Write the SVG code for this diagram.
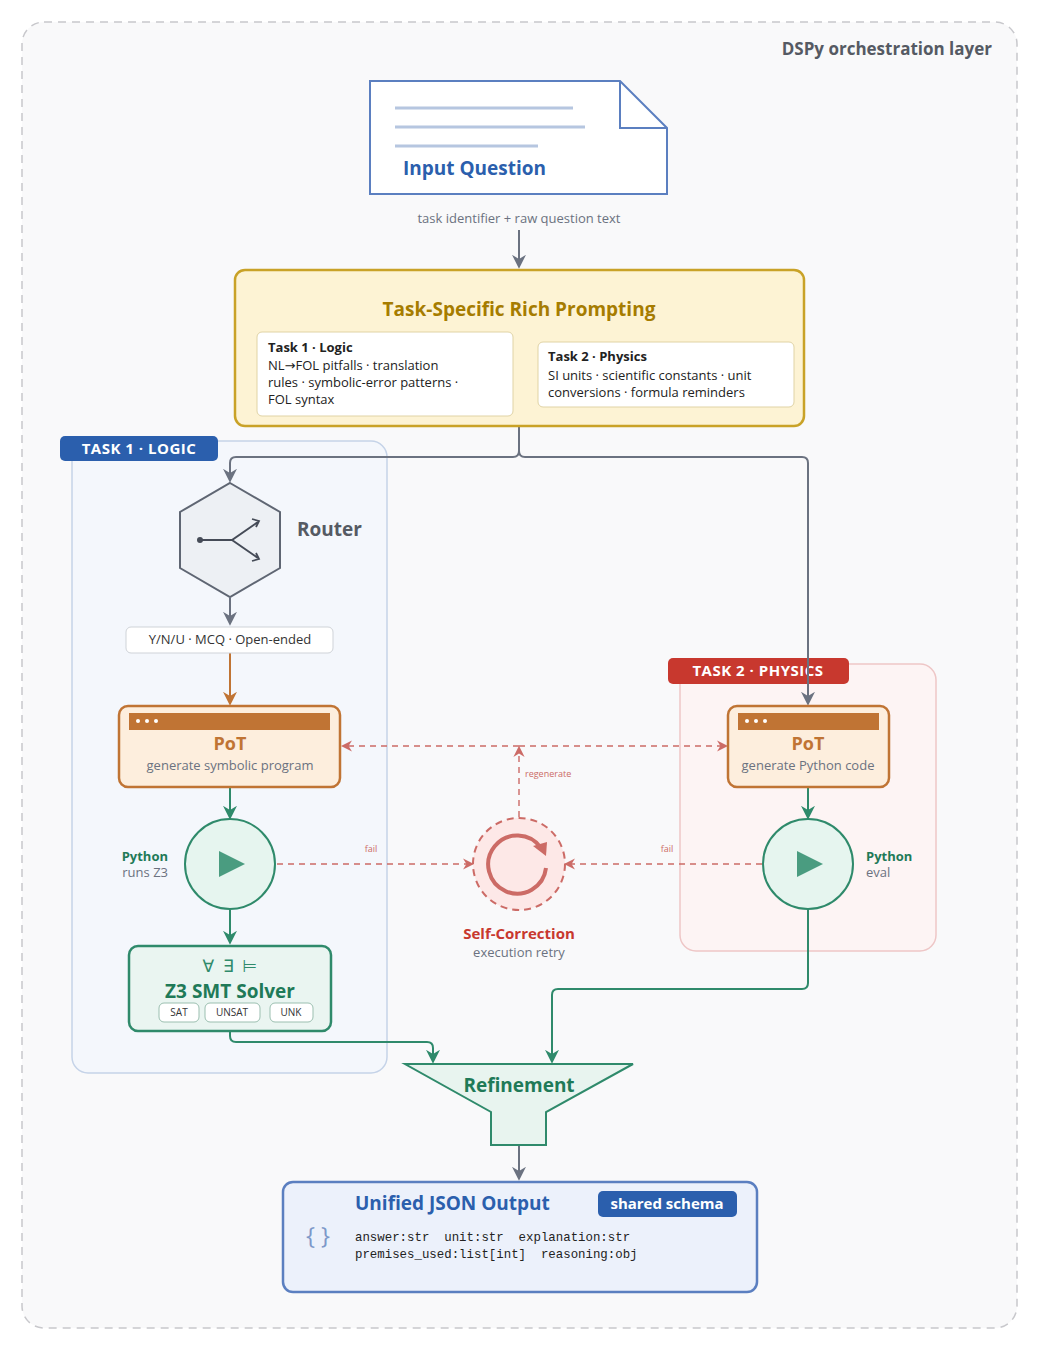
<svg xmlns="http://www.w3.org/2000/svg" width="1039" height="1350" viewBox="0 0 1039 1350">
<style>
text{font-family:"Open Sans","DejaVu Sans",sans-serif}
.g{fill:none;stroke:#2f8a6b;stroke-width:2}
.gr{fill:none;stroke:#6b7280;stroke-width:2}
.r{fill:none;stroke:#cc6b66;stroke-width:1.4;stroke-dasharray:6 5}
.pill{fill:#fff;stroke:#9bbfb0;stroke-width:1}
.mono{font-family:"Liberation Mono","DejaVu Sans Mono",monospace;font-size:12.4px;fill:#222}
</style>
<defs>
<marker id="ag" viewBox="0 0 10 10" refX="8" refY="5" markerWidth="7" markerHeight="7" orient="auto"><path d="M0,0L10,5L0,10L3,5z" fill="#2f8a6b"/></marker>
<marker id="agr" viewBox="0 0 10 10" refX="8" refY="5" markerWidth="7" markerHeight="7" orient="auto"><path d="M0,0L10,5L0,10L3,5z" fill="#6b7280"/></marker>
<marker id="ao" viewBox="0 0 10 10" refX="8" refY="5" markerWidth="7" markerHeight="7" orient="auto"><path d="M0,0L10,5L0,10L3,5z" fill="#c07434"/></marker>
<marker id="ar" viewBox="0 0 10 10" refX="8" refY="5" markerWidth="8" markerHeight="8" orient="auto"><path d="M0,0L10,5L0,10L3,5z" fill="#cc6b66"/></marker>
</defs>
<rect x="0" y="0" width="1039" height="1350" fill="#fff"/>
<rect x="22" y="22" width="995" height="1306" rx="22" fill="#f9f9fa" stroke="#c8c8cc" stroke-width="1.5" stroke-dasharray="8 6"/>
<text x="992" y="55" text-anchor="end" font-size="17" font-weight="bold" fill="#555a63">DSPy orchestration layer</text>

<g id="task1-panel">
<rect x="72" y="441" width="315" height="632" rx="16" fill="#f4f7fc" stroke="#c5d3e8" stroke-width="1.5"/>
<rect x="60" y="436" width="158" height="25" rx="5" fill="#2b5fad"/>
<text x="139" y="454" text-anchor="middle" font-size="15" font-weight="bold" fill="#fff" letter-spacing="0.5">TASK 1 · LOGIC</text>
</g>
<g id="task2-panel">
<rect x="680" y="664" width="256" height="287" rx="16" fill="#fdf4f4" stroke="#eec6c6" stroke-width="1.5"/>
<rect x="668" y="658" width="181" height="26" rx="5" fill="#c8382e"/>
<text x="758" y="676" text-anchor="middle" font-size="15" font-weight="bold" fill="#fff" letter-spacing="0.5">TASK 2 · PHYSICS</text>
</g>

<g id="connectors">
<line x1="519" y1="230" x2="519" y2="266" class="gr" marker-end="url(#agr)"/>
<path d="M519,426V451Q519,457 513,457H236Q230,457 230,463V480" class="gr" marker-end="url(#agr)"/>
<path d="M519,451Q519,457 525,457H802Q808,457 808,463V703" class="gr" marker-end="url(#agr)"/>
<line x1="230" y1="598" x2="230" y2="623" class="gr" marker-end="url(#agr)"/>
<line x1="230" y1="653" x2="230" y2="703" fill="none" stroke="#c07434" stroke-width="2" marker-end="url(#ao)"/>
<line x1="230" y1="788" x2="230" y2="817" class="g" marker-end="url(#ag)"/>
<line x1="230" y1="910" x2="230" y2="942" class="g" marker-end="url(#ag)"/>
<line x1="808" y1="788" x2="808" y2="817" class="g" marker-end="url(#ag)"/>
<path d="M230,1032V1036Q230,1042 236,1042H427Q433,1042 433,1048V1061" class="g" marker-end="url(#ag)"/>
<path d="M808,910V983Q808,989 802,989H558Q552,989 552,995V1061" class="g" marker-end="url(#ag)"/>
<line x1="519" y1="1146" x2="519" y2="1178" class="gr" marker-end="url(#agr)"/>
<line x1="277" y1="864" x2="472" y2="864" class="r" marker-end="url(#ar)"/>
<line x1="762" y1="864" x2="566" y2="864" class="r" marker-end="url(#ar)"/>
<line x1="519" y1="817" x2="519" y2="748" class="r" marker-end="url(#ar)"/>
<line x1="519" y1="746" x2="343" y2="746" class="r" marker-end="url(#ar)"/>
<line x1="519" y1="746" x2="726" y2="746" class="r" marker-end="url(#ar)"/>
<text x="371" y="852" text-anchor="middle" font-size="9" fill="#cc6b66">fail</text>
<text x="667" y="852" text-anchor="middle" font-size="9" fill="#cc6b66">fail</text>
<text x="525" y="777" font-size="9" fill="#cc6b66">regenerate</text>
</g>

<g id="input">
<path d="M370,81H620L667,128V194H370Z" fill="#fff" stroke="#5b7fc0" stroke-width="2"/>
<path d="M620,81V128H667" fill="none" stroke="#5b7fc0" stroke-width="2"/>
<line x1="395" y1="108" x2="573" y2="108" stroke="#b6c6e0" stroke-width="3"/>
<line x1="395" y1="127" x2="585" y2="127" stroke="#b6c6e0" stroke-width="3"/>
<line x1="395" y1="146" x2="538" y2="146" stroke="#b6c6e0" stroke-width="3"/>
<text x="403" y="175" font-size="19" font-weight="bold" fill="#2b5fad">Input Question</text>
<text x="519" y="223" text-anchor="middle" font-size="13" fill="#6b7280">task identifier + raw question text</text>
</g>

<g id="prompting">
<rect x="235" y="270" width="569" height="156" rx="10" fill="#fdf3d4" stroke="#c9a227" stroke-width="2.5"/>
<text x="519" y="316" text-anchor="middle" font-size="19" font-weight="bold" fill="#a67c00">Task-Specific Rich Prompting</text>
<rect x="257" y="332" width="256" height="84" rx="5" fill="#fff" stroke="#e0d3a5"/>
<text font-size="13" fill="#222"><tspan x="268" y="352" font-weight="bold">Task 1 · Logic</tspan><tspan x="268" y="370">NL→FOL pitfalls · translation</tspan><tspan x="268" y="387">rules · symbolic-error patterns ·</tspan><tspan x="268" y="404">FOL syntax</tspan></text>
<rect x="538" y="342" width="256" height="65" rx="5" fill="#fff" stroke="#e0d3a5"/>
<text font-size="13" fill="#222"><tspan x="548" y="361" font-weight="bold">Task 2 · Physics</tspan><tspan x="548" y="380">SI units · scientific constants · unit</tspan><tspan x="548" y="397">conversions · formula reminders</tspan></text>
</g>

<g id="router">
<polygon points="230,483 280,512 280,568 230,597 180,568 180,512" fill="#edf0f4" stroke="#5f6673" stroke-width="2"/>
<path d="M200,540H232L258,522M232,540L258,558" fill="none" stroke="#454b57" stroke-width="2"/>
<circle cx="200" cy="540" r="3" fill="#454b57"/>
<path d="M252,519L259,521L256,527M252,561L259,559L256,553" fill="none" stroke="#454b57" stroke-width="1.8"/>
<text x="297" y="536" font-size="19" font-weight="bold" fill="#555a63">Router</text>
</g>

<g id="types">
<rect x="126" y="627" width="207" height="26" rx="5" fill="#fff" stroke="#cfd3d8"/>
<text x="230" y="644" text-anchor="middle" font-size="13" fill="#333">Y/N/U · MCQ · Open-ended</text>
</g>

<g id="pot1">
<rect x="119" y="706" width="221" height="81" rx="9" fill="#fdeedd" stroke="#c07434" stroke-width="2.5"/>
<rect x="129" y="713" width="201" height="17" fill="#c07434"/>
<circle cx="138" cy="721" r="2" fill="#fff"/><circle cx="147" cy="721" r="2" fill="#fff"/><circle cx="156" cy="721" r="2" fill="#fff"/>
<text x="230" y="750" text-anchor="middle" font-size="18" font-weight="bold" fill="#c07434">PoT</text>
<text x="230" y="770" text-anchor="middle" font-size="13" fill="#6b7280">generate symbolic program</text>
</g>
<g id="pot2">
<rect x="728" y="706" width="161" height="81" rx="9" fill="#fdeedd" stroke="#c07434" stroke-width="2.5"/>
<rect x="738" y="713" width="141" height="17" fill="#c07434"/>
<circle cx="747" cy="721" r="2" fill="#fff"/><circle cx="756" cy="721" r="2" fill="#fff"/><circle cx="765" cy="721" r="2" fill="#fff"/>
<text x="808" y="750" text-anchor="middle" font-size="18" font-weight="bold" fill="#c07434">PoT</text>
<text x="808" y="770" text-anchor="middle" font-size="13" fill="#6b7280">generate Python code</text>
</g>

<g id="python1">
<circle cx="230" cy="864" r="45" fill="#e6f5ef" stroke="#2f8a6b" stroke-width="2"/>
<polygon points="219,851 245,864 219,877" fill="#4a9c80"/>
<text x="168" y="861" text-anchor="end" font-size="13" font-weight="bold" fill="#1f7a58">Python</text>
<text x="168" y="877" text-anchor="end" font-size="13" fill="#6b7280">runs Z3</text>
</g>
<g id="python2">
<circle cx="808" cy="864" r="45" fill="#e6f5ef" stroke="#2f8a6b" stroke-width="2"/>
<polygon points="797,851 823,864 797,877" fill="#4a9c80"/>
<text x="866" y="861" font-size="13" font-weight="bold" fill="#1f7a58">Python</text>
<text x="866" y="877" font-size="13" fill="#6b7280">eval</text>
</g>

<g id="selfcorrection">
<circle cx="519" cy="864" r="46" fill="#fde8e7" stroke="#cc6b66" stroke-width="2" stroke-dasharray="7 5"/>
<path d="M546,868A29,29 0 1 1 541,848" fill="none" stroke="#cc6b66" stroke-width="4"/>
<polygon points="533,846 547,842 546,856" fill="#cc6b66"/>
<text x="519" y="939" text-anchor="middle" font-size="15" font-weight="bold" fill="#c8382e">Self-Correction</text>
<text x="519" y="957" text-anchor="middle" font-size="13" fill="#6b7280" font-family="Liberation Serif,serif">execution retry</text>
</g>

<g id="z3">
<rect x="129" y="946" width="202" height="85" rx="9" fill="#eaf5f1" stroke="#2f8a6b" stroke-width="2.5"/>
<text x="230" y="972" text-anchor="middle" font-size="17" fill="#2f8a6b" font-family="DejaVu Sans,sans-serif" xml:space="preserve">∀  ∃  ⊨</text>
<text x="230" y="998" text-anchor="middle" font-size="19" font-weight="bold" fill="#1f7a58">Z3 SMT Solver</text>
<rect x="159" y="1003" width="40" height="19" rx="5" class="pill"/><text x="179" y="1016" text-anchor="middle" font-size="10" fill="#333">SAT</text>
<rect x="205" y="1003" width="55" height="19" rx="5" class="pill"/><text x="232" y="1016" text-anchor="middle" font-size="10" fill="#333">UNSAT</text>
<rect x="270" y="1003" width="43" height="19" rx="5" class="pill"/><text x="291" y="1016" text-anchor="middle" font-size="10" fill="#333">UNK</text>
</g>

<g id="refinement">
<polygon points="405,1064 633,1064 546,1112 546,1145 491,1145 491,1112" fill="#e8f4ef" stroke="#2f8a6b" stroke-width="2"/>
<text x="519" y="1092" text-anchor="middle" font-size="19" font-weight="bold" fill="#1f7a58">Refinement</text>
</g>

<g id="output">
<rect x="283" y="1182" width="474" height="110" rx="10" fill="#ecf1fb" stroke="#5b7fc0" stroke-width="2.5"/>
<text x="355" y="1210" font-size="19" font-weight="bold" fill="#2b5fad">Unified JSON Output</text>
<rect x="598" y="1191" width="139" height="26" rx="5" fill="#2b5fad"/>
<text x="667" y="1209" text-anchor="middle" font-size="15" font-weight="bold" fill="#fff">shared schema</text>
<text x="318" y="1244" text-anchor="middle" font-size="24" fill="#7d98c9" font-family="Liberation Serif,serif">{ }</text>
<text x="355" y="1241" class="mono" xml:space="preserve">answer:str  unit:str  explanation:str</text>
<text x="355" y="1258" class="mono" xml:space="preserve">premises_used:list[int]  reasoning:obj</text>
</g>
</svg>
